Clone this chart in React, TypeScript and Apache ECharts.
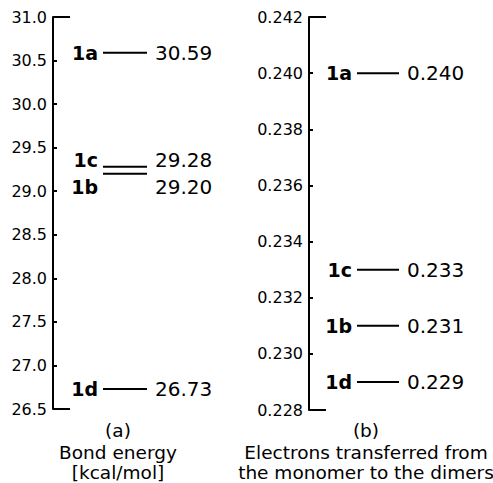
import React, { useEffect, useRef } from "react";
import * as echarts from "echarts";

const dimers = ["1a", "1b", "1c", "1d"];
const bondEnergy = [30.59, 29.2, 29.28, 26.73];
const electronsTransferred = [0.24, 0.231, 0.233, 0.229];
const bondAxis = [26.5, 31.0, 0.5]; // min, max, interval
const electronAxis = [0.228, 0.242, 0.002];
const captionA = ["(a)", "Bond energy", "[kcal/mol]"];
const captionB = ["(b)", "Electrons transferred from", "the monomer to the dimers"];

const FONT = '"DejaVu Sans", "Liberation Sans", Arial, sans-serif';

function makeRender(values: number[], decimals: number, axis: number[], lx0: number, lx1: number) {
  return (params: any, api: any) => {
    const i = params.dataIndex;
    const v = api.value(1);
    const p0 = api.coord([lx0, v]);
    const p1 = api.coord([lx1, v]);
    const y = p0[1];
    // push labels apart when lines are too close
    const minSep = 27;
    let ly = y;
    let nudged = false;
    values.forEach((w, j) => {
      if (j === i) return;
      const yj = api.coord([lx0, w])[1];
      const d = y - yj;
      if (Math.abs(d) < minSep) {
        const s = d === 0 ? (i > j ? 1 : -1) : Math.sign(d);
        ly += (s * (minSep - Math.abs(d))) / 2;
        nudged = true;
      }
    });
    if (nudged) ly += 3;
    const children: any[] = [
      {
        type: "line",
        shape: { x1: p0[0], y1: y, x2: p1[0], y2: y },
        style: { stroke: "#000", lineWidth: 2 },
      },
      {
        type: "text",
        x: p0[0] - 5,
        y: ly,
        style: {
          text: dimers[i],
          font: `bold 19px ${FONT}`,
          fill: "#000",
          textAlign: "right",
          textVerticalAlign: "middle",
        },
      },
      {
        type: "text",
        x: p1[0] + 8,
        y: ly,
        style: {
          text: v.toFixed(decimals),
          font: `20px ${FONT}`,
          fill: "#000",
          textAlign: "left",
          textVerticalAlign: "middle",
        },
      },
    ];
    if (i === 0) {
      const top = api.coord([0, axis[1]]);
      const bot = api.coord([0, axis[0]]);
      children.push(
        { type: "line", shape: { x1: top[0], y1: top[1], x2: top[0] + 17, y2: top[1] }, style: { stroke: "#000", lineWidth: 2 } },
        { type: "line", shape: { x1: bot[0], y1: bot[1], x2: bot[0] + 17, y2: bot[1] }, style: { stroke: "#000", lineWidth: 2 } }
      );
    }
    return { type: "group", children };
  };
}

function yAxisFor(gridIndex: number, axis: number[], decimals: number) {
  return {
    type: "value",
    gridIndex,
    min: axis[0],
    max: axis[1],
    interval: axis[2],
    splitLine: { show: false },
    axisLine: { show: true, lineStyle: { color: "#000", width: 2 } },
    axisTick: { show: true, inside: true, length: 4, lineStyle: { color: "#000", width: 2 } },
    axisLabel: {
      margin: 6,
      color: "#000",
      fontSize: 16,
      fontFamily: FONT,
      formatter: (val: number) => val.toFixed(decimals),
    },
  };
}

function captionGraphics(lines: string[], cx: number) {
  const ys = [430, 452, 472];
  return lines.map((t, k) => ({
    type: "text",
    x: cx,
    y: ys[k],
    style: {
      text: t,
      font: `18.5px ${FONT}`,
      fill: "#000",
      textAlign: "center",
      textVerticalAlign: "middle",
    },
  }));
}

export default function App() {
  const ref = useRef<HTMLDivElement>(null);
  useEffect(() => {
    if (!ref.current) return;
    const chart = echarts.init(ref.current, undefined, { renderer: "svg" });
    chart.setOption({
      animation: false,
      backgroundColor: "#fff",
      grid: [
        { left: 53, top: 17, width: 100, bottom: 74 },
        { left: 309, top: 17, width: 100, bottom: 73 },
      ],
      xAxis: [
        { type: "value", gridIndex: 0, min: 0, max: 100, show: false },
        { type: "value", gridIndex: 1, min: 0, max: 100, show: false },
      ],
      yAxis: [yAxisFor(0, bondAxis, 1), yAxisFor(1, electronAxis, 3)],
      series: [
        {
          type: "custom",
          xAxisIndex: 0,
          yAxisIndex: 0,
          clip: false,
          data: bondEnergy.map((v, i) => [i, v]),
          renderItem: makeRender(bondEnergy, 2, bondAxis, 50, 94),
        },
        {
          type: "custom",
          xAxisIndex: 1,
          yAxisIndex: 1,
          clip: false,
          data: electronsTransferred.map((v, i) => [i, v]),
          renderItem: makeRender(electronsTransferred, 3, electronAxis, 48, 90),
        },
      ],
      graphic: [...captionGraphics(captionA, 118), ...captionGraphics(captionB, 366)],
    });
    return () => chart.dispose();
  }, []);
  return (
    <div
      ref={ref}
      style={{ position: "fixed", left: 0, top: 0, width: 493, height: 483, background: "#fff" }}
    />
  );
}
